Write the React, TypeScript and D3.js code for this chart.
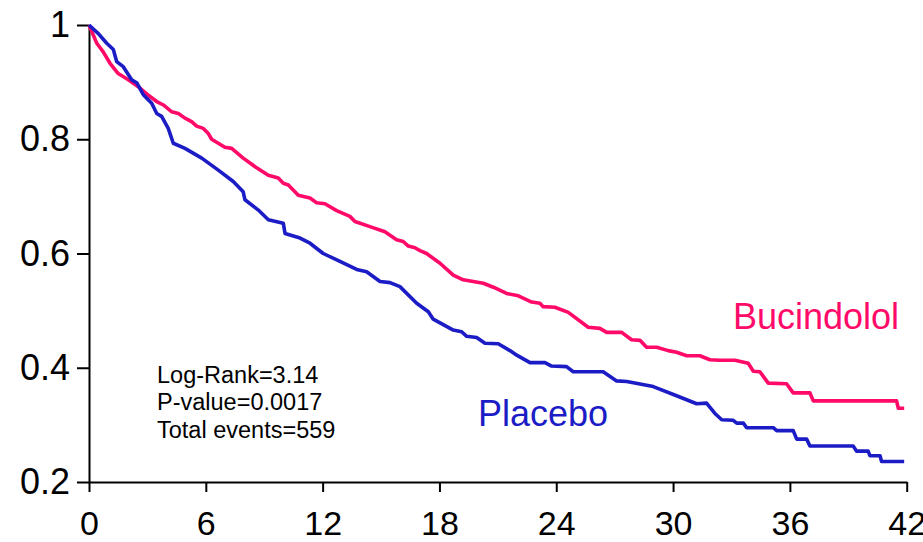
import React, { useEffect, useRef } from 'react';
import * as d3 from 'd3';

// Kaplan-Meier style survival curves, months vs proportion event-free
const bucindololMonths = [0, 0.4, 0.73, 1.08, 1.5, 2.02, 2.53, 3.05, 3.48, 3.82, 4.25, 4.59, 4.93, 5.27, 5.53, 5.87, 6.13, 6.3, 6.64, 6.98, 7.33, 7.92, 8.53, 9.21, 9.72, 9.98, 10.24, 10.75, 11.35, 11.69, 12.12, 12.72, 13.4, 13.66, 14.43, 15.2, 15.8, 16.14, 16.4, 16.74, 17.0, 17.34, 18.03, 18.71, 19.22, 20.25, 20.77, 21.45, 22.05, 22.74, 23.16, 23.33, 23.93, 24.62, 25.64, 26.24, 26.59, 27.36, 27.87, 28.3, 28.64, 29.16, 29.75, 30.18, 30.7, 31.38, 31.89, 32.41, 33.18, 33.86, 34.12, 34.46, 34.89, 35.83, 36.17, 37.03, 37.2, 41.48, 41.57, 41.87];
const bucindololSurv = [1.0, 0.968, 0.953, 0.933, 0.915, 0.904, 0.892, 0.877, 0.866, 0.86, 0.848, 0.845, 0.837, 0.831, 0.823, 0.819, 0.81, 0.8, 0.793, 0.786, 0.784, 0.767, 0.752, 0.737, 0.732, 0.723, 0.72, 0.702, 0.697, 0.689, 0.687, 0.675, 0.665, 0.656, 0.647, 0.638, 0.624, 0.621, 0.613, 0.61, 0.605, 0.6, 0.583, 0.562, 0.554, 0.548, 0.541, 0.53, 0.526, 0.515, 0.513, 0.507, 0.506, 0.497, 0.471, 0.469, 0.462, 0.462, 0.449, 0.448, 0.436, 0.436, 0.43, 0.427, 0.421, 0.421, 0.414, 0.413, 0.413, 0.408, 0.394, 0.393, 0.373, 0.372, 0.356, 0.356, 0.342, 0.342, 0.329, 0.329];

const placeboMonths = [0, 0.48, 0.91, 1.25, 1.42, 1.76, 2.19, 2.45, 2.79, 3.22, 3.48, 3.73, 4.07, 4.33, 4.93, 5.79, 6.64, 7.41, 7.92, 8.01, 8.7, 9.21, 9.98, 10.07, 10.84, 11.35, 12.03, 12.89, 13.75, 14.26, 14.95, 15.46, 15.97, 16.83, 17.43, 17.68, 18.71, 19.14, 19.4, 19.91, 20.34, 21.02, 21.62, 21.97, 22.65, 23.42, 23.76, 24.53, 24.87, 26.41, 27.1, 27.62, 28.98, 30.18, 31.21, 31.72, 32.15, 32.5, 33.09, 33.27, 33.61, 33.78, 35.15, 35.32, 36.17, 36.35, 36.86, 37.03, 39.25, 39.43, 40.02, 40.11, 40.63, 40.71, 41.87];
const placeboSurv = [1.0, 0.985, 0.968, 0.957, 0.936, 0.927, 0.904, 0.899, 0.878, 0.863, 0.845, 0.84, 0.819, 0.793, 0.784, 0.767, 0.746, 0.726, 0.708, 0.694, 0.676, 0.659, 0.653, 0.635, 0.627, 0.618, 0.6, 0.586, 0.572, 0.568, 0.551, 0.549, 0.542, 0.513, 0.498, 0.485, 0.466, 0.463, 0.455, 0.453, 0.443, 0.442, 0.43, 0.422, 0.409, 0.409, 0.403, 0.402, 0.393, 0.393, 0.377, 0.376, 0.367, 0.351, 0.337, 0.338, 0.32, 0.309, 0.308, 0.303, 0.303, 0.295, 0.295, 0.29, 0.29, 0.275, 0.275, 0.263, 0.263, 0.254, 0.254, 0.246, 0.246, 0.236, 0.236];

const xTicks = [0, 6, 12, 18, 24, 30, 36, 42];
const yTicks = [0.2, 0.4, 0.6, 0.8, 1];
const statLines = ['Log-Rank=3.14', 'P-value=0.0017', 'Total events=559'];

const PINK = '#ff0a68';
const BLUE = '#1c1cc6';
const FONT = 'Arial, "Liberation Sans", sans-serif';

const App = () => {
  const ref = useRef<SVGSVGElement>(null);

  useEffect(() => {
    const width = 923;
    const height = 542;
    const svg = d3.select(ref.current);
    svg.selectAll('*').remove();
    svg.attr('width', width).attr('height', height);

    const x = d3.scaleLinear().domain([0, 42]).range([89, 906.7]);
    const y = d3.scaleLinear().domain([0.2, 1]).range([482, 25]);

    const xAxis = svg.append('g')
      .attr('transform', `translate(0,${y(0.2)})`)
      .call(d3.axisBottom(x).tickValues(xTicks).tickFormat(d3.format('d')).tickSizeInner(10).tickSizeOuter(0).tickPadding(19));
    const yAxis = svg.append('g')
      .attr('transform', `translate(${x(0)},0)`)
      .call(d3.axisLeft(y).tickValues(yTicks).tickFormat((d: any) => (d === 1 ? '1' : String(d))).tickSizeInner(12).tickSizeOuter(0).tickPadding(7));

    [xAxis, yAxis].forEach(g => {
      g.selectAll('path, line').attr('stroke', '#000').attr('stroke-width', 2);
      g.selectAll('text').attr('fill', '#000').style('font-family', FONT);
    });
    xAxis.selectAll('text').style('font-size', '34px');
    yAxis.selectAll('text').style('font-size', '36px');

    const line = d3.line<[number, number]>()
      .x(d => x(d[0]))
      .y(d => y(d[1]));

    const series = [
      { months: bucindololMonths, surv: bucindololSurv, color: PINK },
      { months: placeboMonths, surv: placeboSurv, color: BLUE },
    ];
    series.forEach(s => {
      const pts = s.months.map((m, i) => [m, s.surv[i]] as [number, number]);
      svg.append('path')
        .attr('d', line(pts))
        .attr('fill', 'none')
        .attr('stroke', s.color)
        .attr('stroke-width', 3.6)
        .attr('stroke-linejoin', 'round');
    });

    // stats box
    const stats = svg.append('text')
      .attr('x', 157)
      .attr('y', 382.5)
      .style('font-family', FONT)
      .style('font-size', '23.5px')
      .attr('fill', '#000');
    statLines.forEach((t, i) => {
      stats.append('tspan').attr('x', 157).attr('dy', i === 0 ? 0 : 27.5).text(t);
    });

    svg.append('text')
      .attr('x', 733).attr('y', 329)
      .style('font-family', FONT).style('font-size', '36px')
      .attr('fill', PINK)
      .text('Bucindolol');
    svg.append('text')
      .attr('x', 478).attr('y', 426)
      .style('font-family', FONT).style('font-size', '36px')
      .attr('fill', BLUE)
      .text('Placebo');
  }, []);

  return (
    <svg ref={ref} style={{ position: 'absolute', left: 0, top: 0, background: '#fff' }} />
  );
};

export default App;
